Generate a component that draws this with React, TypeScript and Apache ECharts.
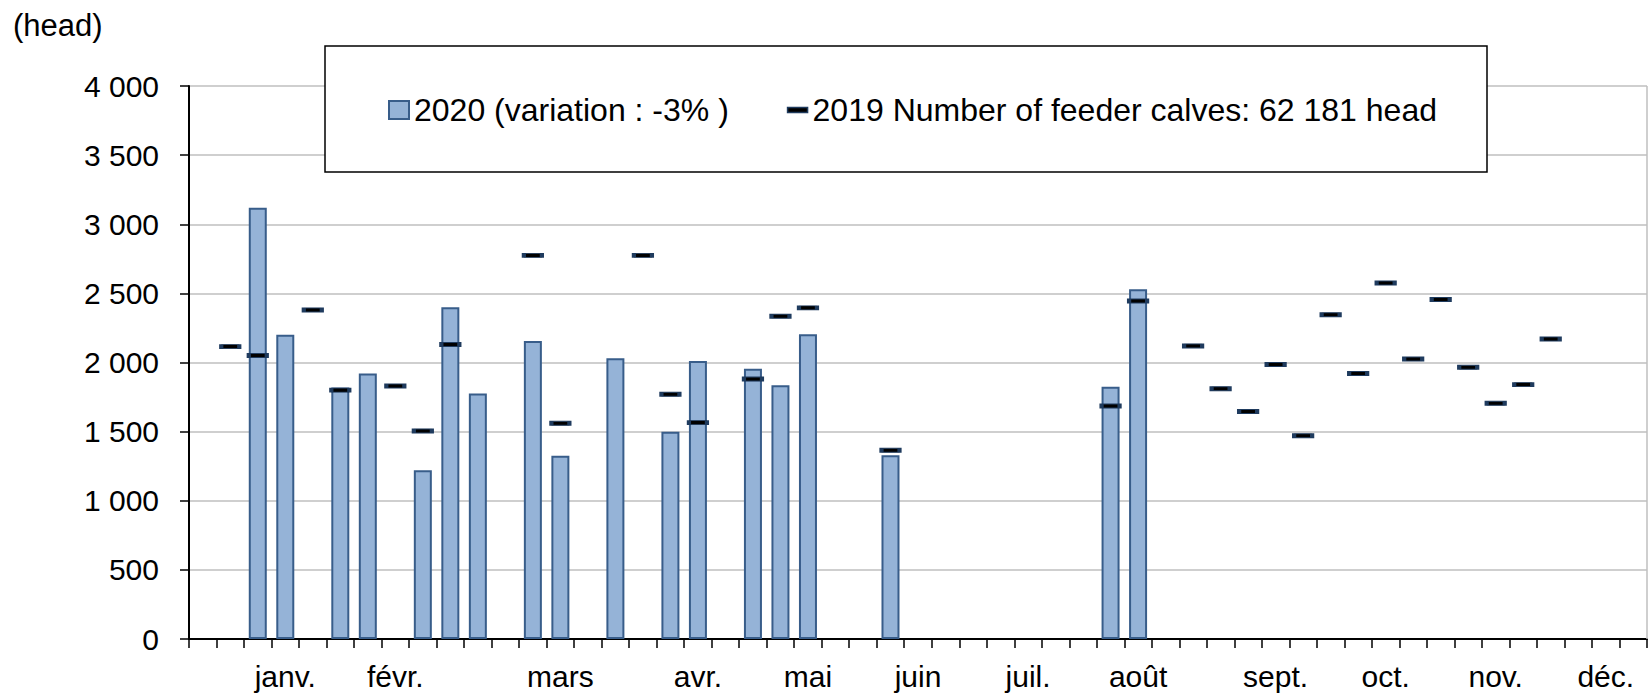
import React, { useEffect, useRef } from "react";
import * as echarts from "echarts";

// 53 weekly categories
const weeks = [
  "1", "2", "3", "4", "5", "6", "7", "8", "9", "10",
  "11", "12", "13", "14", "15", "16", "17", "18", "19", "20",
  "21", "22", "23", "24", "25", "26", "27", "28", "29", "30",
  "31", "32", "33", "34", "35", "36", "37", "38", "39", "40",
  "41", "42", "43", "44", "45", "46", "47", "48", "49", "50",
  "51", "52", "53",
];

// month tick labels, keyed by week
const monthLabels: Record<string, string> = {
  "4": "janv.",
  "8": "févr.",
  "14": "mars",
  "19": "avr.",
  "23": "mai",
  "27": "juin",
  "31": "juil.",
  "35": "août",
  "40": "sept.",
  "44": "oct.",
  "48": "nov.",
  "52": "déc.",
};

const name2020 = "2020 (variation : -3% )";
const name2019 = "2019 Number of feeder calves: 62 181 head";

const values2020: (number | null)[] = [
  null, null, 3120, 2200, null, 1820, 1920, null, 1220, 2400,
  1775, null, 2155, 1325, null, 2030, null, 1500, 2010, null,
  1955, 1835, 2205, null, null, 1330, null, null, null, null,
  null, null, null, 1825, 2530, null, null, null, null, null,
  null, null, null, null, null, null, null, null, null, null,
  null, null, null,
];

const values2019: (number | null)[] = [
  null, 2115, 2050, null, 2380, 1800, null, 1830, 1505, 2130,
  null, null, 2775, 1560, null, null, 2775, 1770, 1565, null,
  1880, 2335, 2395, null, null, 1365, null, null, null, null,
  null, null, null, 1685, 2445, null, 2120, 1810, 1645, 1985,
  1470, 2345, 1920, 2575, 2025, 2455, 1965, 1705, 1840, 2170,
  null, null, null,
];

const FONT = "'Liberation Sans', Arial, sans-serif";

function fmt(v: number): string {
  return String(v).replace(/\B(?=(\d{3})+(?!\d))/g, " ");
}

export default function App() {
  const ref = useRef<HTMLDivElement>(null);

  useEffect(() => {
    document.body.style.margin = "0";
    const chart = echarts.init(ref.current!, null, { renderer: "svg" });
    chart.setOption({
      animation: false,
      backgroundColor: "#ffffff",
      textStyle: { fontFamily: FONT, color: "#000" },
      grid: { left: 189, right: 1, top: 86, bottom: 55, containLabel: false },
      xAxis: {
        type: "category",
        data: weeks,
        boundaryGap: true,
        axisLine: { show: true, lineStyle: { color: "#000", width: 2 } },
        axisTick: {
          show: true,
          interval: 0,
          length: 9,
          lineStyle: { color: "#000", width: 1.5 },
        },
        axisLabel: {
          interval: 0,
          formatter: (v: string) => monthLabels[v] ?? "",
          fontSize: 30,
          fontFamily: FONT,
          color: "#000",
          margin: 22,
        },
        splitLine: { show: false },
      },
      yAxis: {
        type: "value",
        min: 0,
        max: 4000,
        interval: 500,
        axisLine: { show: true, lineStyle: { color: "#000", width: 2 } },
        axisTick: { show: true, length: 9, lineStyle: { color: "#000", width: 1.5 } },
        axisLabel: {
          formatter: (v: number) => fmt(v),
          fontSize: 30,
          fontFamily: FONT,
          color: "#000",
          margin: 30,
        },
        splitLine: { show: true, lineStyle: { color: "#BFBFBF", width: 1.5 } },
      },
      legend: {
        left: 388,
        top: 94,
        padding: 0,
        itemWidth: 20,
        itemHeight: 18,
        itemGap: 58,
        z: 10,
        selectedMode: false,
        textStyle: { fontSize: 32, fontFamily: FONT, color: "#000" },
        data: [
          { name: name2020, icon: "rect" },
          {
            name: name2019,
            icon: "path://M0,0H21V5H0Z",
            itemStyle: { color: "#000", borderColor: "#1F3B5E", borderWidth: 1.5 },
          },
        ],
      },
      graphic: [
        {
          type: "rect",
          z: 3,
          shape: { x: 325, y: 46, width: 1162, height: 126 },
          style: { fill: "#ffffff", stroke: "#000", lineWidth: 1.5 },
        },
        {
          type: "line",
          z: 1,
          shape: { x1: 1647, y1: 86, x2: 1647, y2: 639 },
          style: { stroke: "#BFBFBF", lineWidth: 1.5 },
        },
        {
          type: "text",
          left: 13,
          top: 10,
          style: { text: "(head)", fontSize: 31, fontFamily: FONT, fill: "#000" },
        },
      ],
      series: [
        {
          name: name2020,
          type: "bar",
          data: values2020.map((v) => (v == null ? "-" : v)),
          barWidth: 18,
          itemStyle: { color: "#95B3D7", borderColor: "#385D8A", borderWidth: 2 },
        },
        {
          name: name2019,
          type: "scatter",
          data: values2019.map((v) => (v == null ? "-" : v)),
          symbol: "rect",
          symbolSize: [18, 4],
          itemStyle: { color: "#000", borderColor: "#1F3B5E", borderWidth: 2, opacity: 1 },
        },
      ],
    });
    return () => chart.dispose();
  }, []);

  return <div ref={ref} style={{ width: 1648, height: 694 }} />;
}
